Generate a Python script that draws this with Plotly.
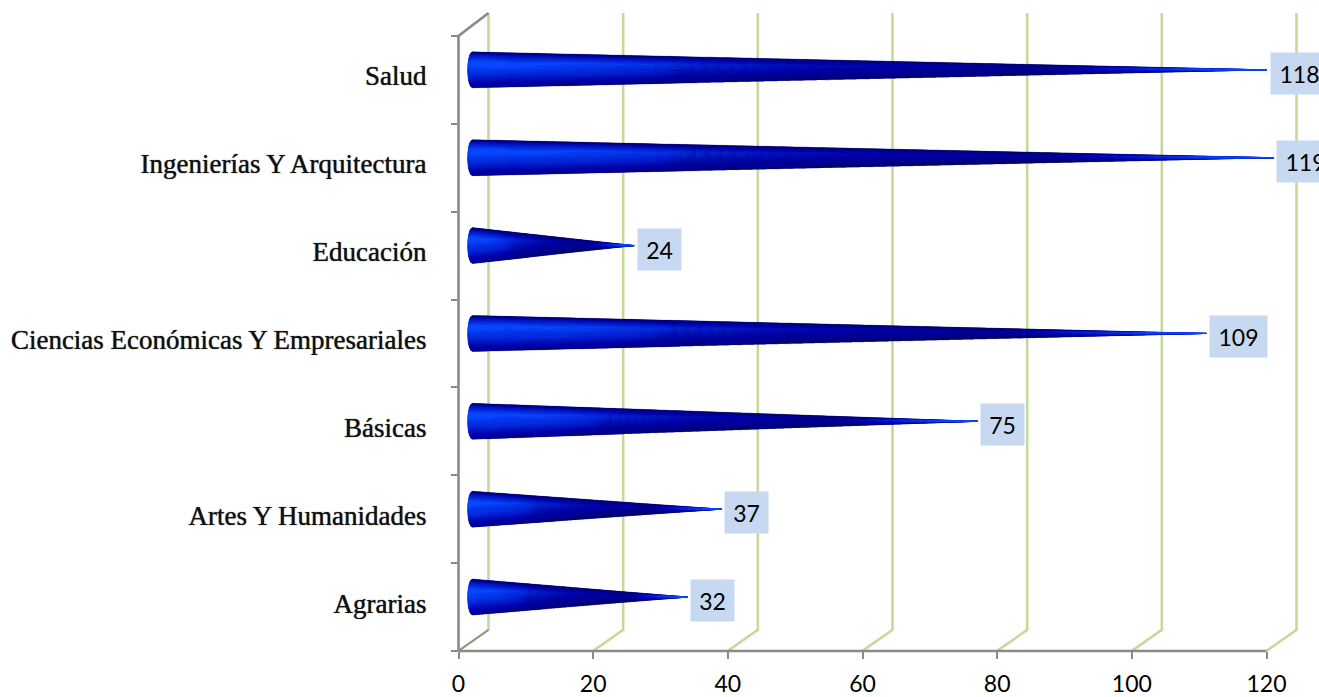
import numpy as np
import plotly.graph_objects as go

categories = ["Agrarias", "Artes Y Humanidades", "Básicas",
              "Ciencias Económicas Y Empresariales", "Educación",
              "Ingenierías Y Arquitectura", "Salud"]
values = [32, 37, 75, 109, 24, 119, 118]
x_ticks = [0, 20, 40, 60, 80, 100, 120]

W, H = 1319, 697
PX_X0, PX_PER_X = 458.5, 808 / 120      # pixel of x=0, pixels per unit
PX_Y0, PX_PER_Y = 607.0, 87.86          # pixel of category 0, pixels per band
PX_FLOOR = 651
ux = lambda px: px / PX_PER_X
uy = lambda px: px / PX_PER_Y

GRID = "#c6d99c"
AXIS = "#8a8a8a"
NAVY, MID, BRIGHT = np.array([0, 0, 70.]), np.array([0, 0, 170.]), np.array([8, 70, 255.])
N_LEVELS = 64


def colour(level):
    c = MID + (BRIGHT - MID) * (level - .5) * 2 if level > .5 else NAVY + (MID - NAVY) * level * 2
    return "rgb(%d,%d,%d)" % tuple(c)


def shade(v, t):
    across = np.interp(v, [-1, -.85, -.4, .2, 1], [.08, .55, 1, .8, .32])
    along = np.interp(t, [0, .15, .45, .72, .88, 1], [1.1, 1, .6, .42, .9, 1.3])
    return min(1, across * along)


buckets = {i: ([], []) for i in range(N_LEVELS)}
half = uy(18)
bulge = ux(5)
x_base = ux(14)
center_off = uy(10)
T = np.linspace(0, 1, 61)
V = np.linspace(-1, 1, 37)
under_x, under_y = [], []
for i, val in enumerate(values):
    cy = i + center_off
    def xy(t, v):
        return (round(x_base + t * val - (1 - t) * bulge * np.sqrt(max(0, 1 - v * v)), 3),
                round(cy - (1 - t) * half * v, 4))
    for v in V:
        x, y = xy(0, v)
        under_x.append(x); under_y.append(y)
    x, y = xy(1, 0)
    under_x += [x, None]; under_y += [y, None]
    for a in range(len(T) - 1):
        for b in range(len(V) - 1):
            t0, t1, v0, v1 = T[a], T[a + 1], V[b], V[b + 1]
            lv = int(round(shade((v0 + v1) / 2, (t0 + t1) / 2) * (N_LEVELS - 1)))
            px, py = buckets[lv]
            for p in [(t0, v0), (t1, v0), (t1, v1), (t0, v1), (t0, v0)]:
                x, y = xy(*p)
                px.append(x); py.append(y)
            px.append(None); py.append(None)

fig = go.Figure()
depth_x, depth_y = ux(30), uy(21)
floor = -.5
top_wall = uy(PX_Y0 - 13)
common = dict(hoverinfo="skip", showlegend=False)
# walls and floor live on a hidden full-canvas axis pair, so that they are not clipped
for t in x_ticks:
    fig.add_trace(go.Scatter(
        x=[t, t + depth_x, t + depth_x], y=[floor, floor + depth_y, top_wall],
        mode="lines", line=dict(color=GRID, width=2.6), **common))
top_band = len(categories) - .5
fig.add_trace(go.Scatter(x=[x_ticks[0], x_ticks[-1]], y=[floor, floor], mode="lines",
                         line=dict(color=AXIS, width=2.6), **common))
fig.add_trace(go.Scatter(x=[0, 0, depth_x], y=[floor, top_band, top_wall], mode="lines",
                         line=dict(color=AXIS, width=2.6), **common))
fig.add_trace(go.Scatter(x=[0, depth_x], y=[floor, floor + depth_y], mode="lines",
                         line=dict(color=AXIS, width=1.5), **common))

on_axes = dict(xaxis="x2", yaxis="y2")
fig.add_trace(go.Scatter(x=under_x, y=under_y, mode="lines", fill="toself", fillcolor="rgb(0,0,140)",
                         line=dict(color="rgba(0,0,140,0)", width=0), **common, **on_axes))
for lv, (px, py) in buckets.items():
    if not px:
        continue
    col = colour(lv / (N_LEVELS - 1))
    fig.add_trace(go.Scatter(x=px, y=py, mode="lines", fill="toself", fillcolor=col,
                             line=dict(color=col, width=.3), **common, **on_axes))

for i, val in enumerate(values):
    fig.add_annotation(x=val + ux(16.5), y=i + uy(6.5), xref="x2", yref="y2", text=str(val),
                       showarrow=False, xanchor="left", yanchor="middle", align="center",
                       width=57 if val >= 100 else 43, height=41, borderpad=0, bgcolor="#c6d9f1",
                       font=dict(family="Lato", size=23, color="#000"))

fig.update_layout(
    width=W, height=H, margin=dict(l=0, r=0, t=0, b=0, pad=0, autoexpand=False),
    paper_bgcolor="white", plot_bgcolor="rgba(0,0,0,0)", showlegend=False,
    xaxis=dict(visible=False, domain=[0, 1],
               range=[-PX_X0 / PX_PER_X, (W - PX_X0) / PX_PER_X]),
    yaxis=dict(visible=False, domain=[0, 1],
               range=[(PX_Y0 - H) / PX_PER_Y, PX_Y0 / PX_PER_Y]),
    xaxis2=dict(domain=[PX_X0 / W, 1], anchor="y2", range=[0, (W - PX_X0) / PX_PER_X],
                showgrid=False, zeroline=False, showline=False,
                tickmode="array", tickvals=x_ticks, ticks="outside", ticklen=7, tickwidth=1.5,
                tickcolor=AXIS, ticklabelstandoff=5,
                tickfont=dict(family="Lato", size=23, color="#000")),
    yaxis2=dict(domain=[(H - PX_FLOOR) / H, 1], anchor="x2", range=[floor, PX_Y0 / PX_PER_Y],
                showgrid=False, zeroline=False, showline=False,
                tickmode="array", tickvals=[i + uy(4) for i in range(len(categories))],
                ticktext=categories, ticks="", ticklabelstandoff=31,
                tickfont=dict(family="Liberation Serif", size=27, color="#111",
                              shadow="0 0 1px #222"),
                minor=dict(tickmode="array",
                           tickvals=[i - .5 for i in range(len(categories) + 1)],
                           ticks="outside", ticklen=7, tickwidth=1.5, tickcolor=AXIS, showgrid=False)),
)
fig.write_html("out.html", config={"displayModeBar": False},
               post_script="document.body.style.margin='0';document.body.style.overflow='hidden';")
